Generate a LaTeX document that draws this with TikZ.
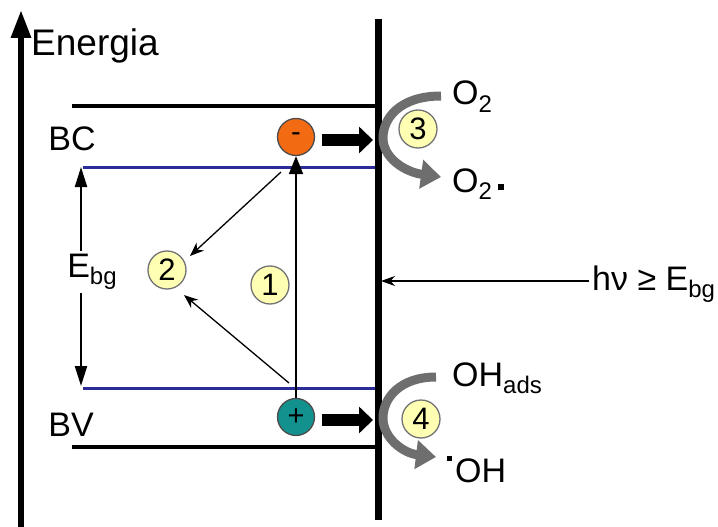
\documentclass[tikz,border=0pt]{standalone}
\usepackage{fontspec}
\setmainfont{Liberation Sans}
\usetikzlibrary{arrows.meta}
\definecolor{numfill}{HTML}{FFFFB4}
\definecolor{elecorange}{HTML}{F26B12}
\definecolor{holeteal}{HTML}{13918F}
\definecolor{bandblue}{HTML}{2B2B9A}
\definecolor{reactgray}{HTML}{6E6E6E}
\newcommand{\mysub}[1]{\raisebox{-7pt}{\fontsize{24}{24}\selectfont #1}}
\tikzset{
  txt/.style={font=\fontsize{34}{37}\selectfont, inner sep=0pt},
  numcircle/.style={circle, draw=black!55, line width=1.3pt, fill=numfill,
    minimum size=38pt, inner sep=0pt, font=\fontsize{31}{31}\selectfont},
  carrier/.style={circle, draw=black!70, line width=1.3pt, minimum size=37pt,
    inner sep=0pt, font=\fontsize{29}{29}\selectfont},
  level/.style={line width=4pt},
  bandline/.style={line width=3pt, draw=bandblue},
  blockarrow/.style={line width=12pt, -{Triangle[length=14pt,width=26pt]}},
  thinarrow/.style={line width=1.3pt, -{Stealth[length=14pt,width=11pt]}},
  mainarrow/.style={line width=2pt, -{Triangle[length=18pt,width=14pt]}},
  reactarrow/.style={line width=9pt, draw=reactgray, -{Triangle[length=20pt,width=28pt]}}
}
\begin{document}
\begin{tikzpicture}[x=1pt,y=-1pt]
\useasboundingbox (0,0) rectangle (718,527);
% axis
\coordinate (axb) at (21,527);
\coordinate (axt) at (21,10);
\draw[line width=6pt, -{Triangle[length=28pt,width=19pt]}] (axb) -- (axt);
\node[txt, font=\fontsize{37}{40}\selectfont, anchor=west] (energia) at (31,46) {Energia};
% surface line
\coordinate (st) at (378,19);
\coordinate (sb) at (378,520);
% levels
\coordinate (cbl) at (72,106); \coordinate (cbr) at (378,106);
\coordinate (bcl) at (83,167); \coordinate (bcr) at (376,167);
\coordinate (bvl) at (83,388); \coordinate (bvr) at (376,388);
\coordinate (vbl) at (72,447); \coordinate (vbr) at (378,447);
\draw[level] (cbl) -- (cbr);
\draw[level] (vbl) -- (vbr);
\draw[bandline] (bcl) -- (bcr);
\draw[bandline] (bvl) -- (bvr);
\draw[line width=7pt] (st) -- (sb);
\node[txt] (bc) at (72,139) {BC};
\node[txt] (bv) at (71,425) {BV};
% band gap arrow
\coordinate (ega) at (81,167);
\coordinate (egb) at (81,386);
\draw[line width=2.2pt, {Triangle[length=20pt,width=12pt]}-{Triangle[length=20pt,width=12pt]}] (ega) -- (egb);
\node[txt, fill=white, inner sep=3pt] (ebg) at (92,272) {E\mysub{bg}};
% carriers
\node[carrier, fill=elecorange] (el) at (296,137) {-};
\node[carrier, fill=holeteal] (ho) at (296,417) {+};
\draw[mainarrow] (ho) -- (el);
\coordinate (ea1) at (322,140); \coordinate (ea2) at (373,140);
\coordinate (ha1) at (322,420); \coordinate (ha2) at (373,420);
\draw[blockarrow] (ea1) -- (ea2);
\draw[blockarrow] (ha1) -- (ha2);
% numbered circles
\node[numcircle] (n1) at (270,285) {1};
\node[numcircle] (n2) at (167,270) {2};
\node[numcircle] (n3) at (418,129) {3};
\node[numcircle] (n4) at (421,419) {4};
% recombination arrows
\coordinate (r1s) at (281,172); \coordinate (r1e) at (190,256);
\coordinate (r2s) at (289,383); \coordinate (r2e) at (184,295);
\draw[thinarrow] (r1s) -- (r1e);
\draw[thinarrow] (r2s) -- (r2e);
% light
\coordinate (hvs) at (589,281);
\coordinate (hve) at (381,281);
\draw[line width=1.6pt, -{Stealth[length=14pt,width=10pt]}] (hvs) -- (hve);
\node[txt, anchor=base west] (hv) at (592,290) {hν ≥ E\mysub{bg}};
% reactions
\coordinate (o2s) at (441,96);
\coordinate (o2e) at (441,177);
\draw[reactarrow] (o2s) .. controls (400,96) and (383,118) .. (383,138) .. controls (383,158) and (405,172) .. (o2e);
\node[txt, anchor=base west] (o2) at (452,105) {O\mysub{2}};
\node[txt, anchor=base west] (o2r) at (452,192) {O\mysub{2}\,\rule[2pt]{6pt}{6pt}};
\coordinate (ohs) at (436,377);
\coordinate (ohe) at (436,457);
\draw[reactarrow] (ohs) .. controls (400,377) and (383,398) .. (383,418) .. controls (383,438) and (403,453) .. (ohe);
\node[txt, anchor=base west] (ohads) at (452,386) {OH\mysub{ads}};
\node[txt, anchor=base west] (ohr) at (447,482) {\raisebox{21pt}{\rule{5pt}{5pt}}\hspace{3pt}OH};
\end{tikzpicture}
\end{document}
